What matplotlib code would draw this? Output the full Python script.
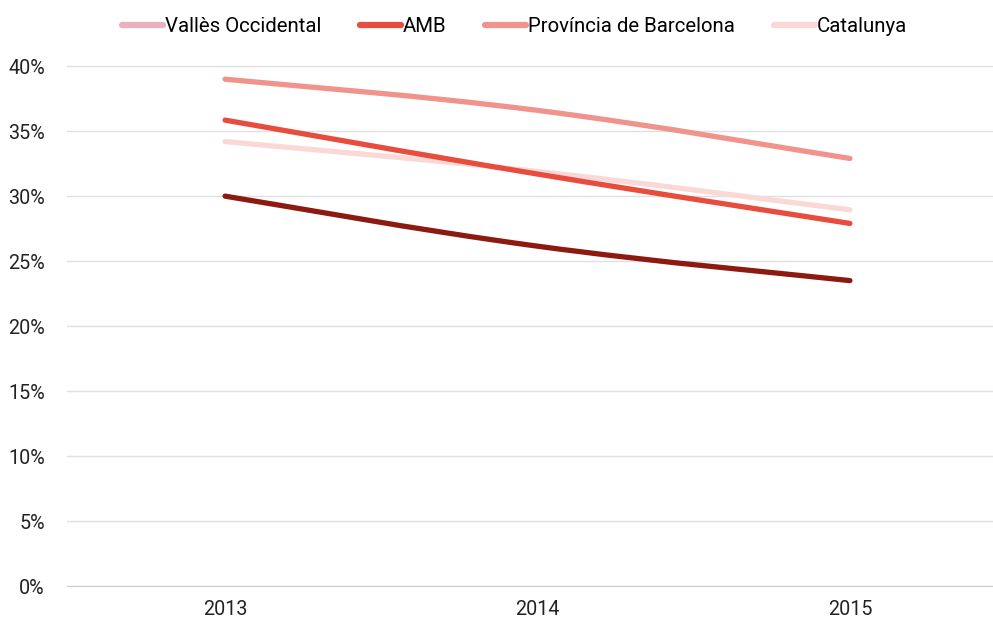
import matplotlib.pyplot as plt
from matplotlib.path import Path
from matplotlib.patches import PathPatch
from matplotlib.lines import Line2D
from matplotlib.ticker import FuncFormatter

plt.rcParams['font.family'] = ['Roboto', 'DejaVu Sans']

years = ['2013', '2014', '2015']
valles = [30.0, 26.15, 23.5]
amb = [35.85, 31.7, 27.9]
provincia = [39.0, 36.6, 32.9]
catalunya = [34.2, 31.9, 28.95]

series = [
    ('Vallès Occidental', valles, '#8c1a10', '#e8b1bd'),
    ('AMB', amb, '#e84c3d', '#e84c3d'),
    ('Província de Barcelona', provincia, '#f0938c', '#f0938c'),
    ('Catalunya', catalunya, '#fad8d6', '#fad8d6'),
]


def smooth_path(xs, ys, t=0.2):
    # cubic bezier through the points, chart.js style tension
    verts = [(xs[0], ys[0])]
    codes = [Path.MOVETO]
    n = len(xs)
    for i in range(n - 1):
        x0, y0 = xs[max(i - 1, 0)], ys[max(i - 1, 0)]
        x1, y1 = xs[i], ys[i]
        x2, y2 = xs[i + 1], ys[i + 1]
        x3, y3 = xs[min(i + 2, n - 1)], ys[min(i + 2, n - 1)]
        c1 = (x1 + (x2 - x0) * t, y1 + (y2 - y0) * t)
        c2 = (x2 - (x3 - x1) * t, y2 - (y3 - y1) * t)
        verts += [c1, c2, (x2, y2)]
        codes += [Path.CURVE4] * 3
    return Path(verts, codes)


fig = plt.figure(figsize=(9.93, 6.21), dpi=100)
ax = fig.add_axes([67 / 993, 35 / 621, 926 / 993, 551 / 621])

x = list(range(len(years)))
# draw back to front so the dark series stays on top
for name, vals, col, _ in reversed(series):
    p = PathPatch(smooth_path(x, vals), facecolor='none', edgecolor=col,
                  lw=3.8, capstyle='round', joinstyle='round', zorder=3)
    ax.add_patch(p)

ax.set_xlim(-0.506, 2.458)
ax.set_ylim(0, 42.4)
ax.set_yticks(range(0, 45, 5))
ax.yaxis.set_major_formatter(FuncFormatter(lambda v, _: f'{int(v)}%'))
ax.set_xticks(x)
ax.set_xticklabels(years)
ax.grid(axis='y', color='#e0e0e0', lw=1)
ax.set_axisbelow(True)
for s in ['top', 'right', 'left']:
    ax.spines[s].set_visible(False)
ax.spines['bottom'].set_color('#cccccc')
ax.tick_params(length=0, labelsize=14.2, colors='#222222', pad=10)
ax.tick_params(axis='y', pad=16)

handles = [Line2D([], [], color=lc, lw=4.5, solid_capstyle='round') for _, _, _, lc in series]
fig.legend(handles, [s[0] for s in series], loc='upper center',
           bbox_to_anchor=(0.518, 1.002), ncol=4, frameon=False, fontsize=14.7,
           handlelength=2.0, handletextpad=0.1, columnspacing=1.9)

fig.savefig('out.png', dpi=100)
